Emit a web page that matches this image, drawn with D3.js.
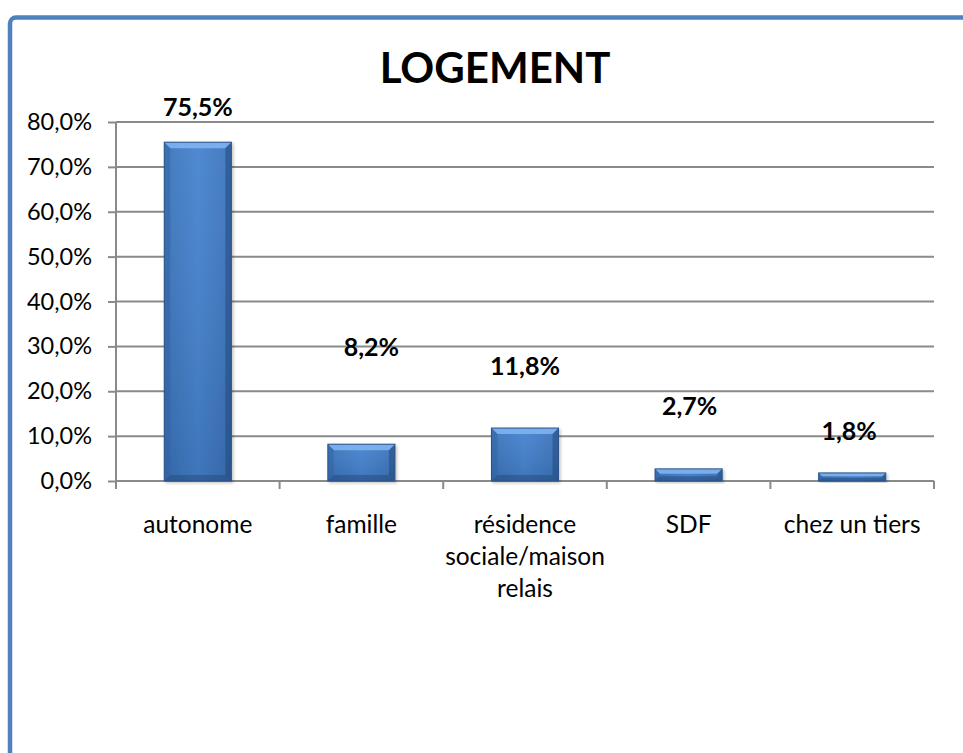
<!DOCTYPE html>
<html><head><meta charset="utf-8">
<script src="https://cdn.jsdelivr.net/npm/d3@7"></script>
<style>
html,body{margin:0;padding:0;background:#fff;}
svg{display:block;font-family:Lato,"Open Sans",sans-serif;}
</style></head>
<body>
<svg id="chart" width="963" height="753"></svg>
<script>
const title = "LOGEMENT";
const categories = ["autonome", "famille", "résidence sociale/maison relais", "SDF", "chez un tiers"];
const values = [75.5, 8.2, 11.8, 2.7, 1.8];
const valueLabels = ["75,5%", "8,2%", "11,8%", "2,7%", "1,8%"];
const yTicks = [0, 10, 20, 30, 40, 50, 60, 70, 80];
const yTickLabels = ["0,0%", "10,0%", "20,0%", "30,0%", "40,0%", "50,0%", "60,0%", "70,0%", "80,0%"];

// label placement (manually positioned labels in the original), in px
const labelDy = [26, 88, 53, 54, 33];
const labelDx = [0, 10, 0, 1, -3];

const svg = d3.select("#chart");
const W = 963, H = 753;
const m = {left: 116, right: 29, top: 122, bottom: 272};
const pw = W - m.left - m.right, ph = H - m.top - m.bottom;

// frame
svg.append("rect").attr("x", 10).attr("y", 17.5).attr("width", 1000).attr("height", 800)
  .attr("rx", 6).attr("fill", "#fff").attr("stroke", "#4f81bd").attr("stroke-width", 4.5);

const defs = svg.append("defs");
const gH = defs.append("linearGradient").attr("id", "gh").attr("x1", 0).attr("x2", 1).attr("y1", 0).attr("y2", 0);
gH.append("stop").attr("offset", "0").attr("stop-color", "#3a72ba");
gH.append("stop").attr("offset", "0.5").attr("stop-color", "#4582cf");
gH.append("stop").attr("offset", "1").attr("stop-color", "#3a72ba");
const gV = defs.append("linearGradient").attr("id", "gv").attr("x1", 0).attr("x2", 0).attr("y1", 0).attr("y2", 1);
gV.append("stop").attr("offset", "0").attr("stop-color", "#ffffff").attr("stop-opacity", 0.06);
gV.append("stop").attr("offset", "1").attr("stop-color", "#000000").attr("stop-opacity", 0.1);
const f = defs.append("filter").attr("id", "sh").attr("x", "-20%").attr("y", "-20%").attr("width", "140%").attr("height", "140%");
f.append("feDropShadow").attr("dx", 1.5).attr("dy", 1.5).attr("stdDeviation", 1.5).attr("flood-color", "#000").attr("flood-opacity", 0.25);

const g = svg.append("g").attr("transform", `translate(${m.left},${m.top})`);

const x = d3.scaleBand().domain(categories).range([0, pw]).paddingInner(0.59).paddingOuter(0.295);
const y = d3.scaleLinear().domain([0, 80]).range([ph, 0]);

// gridlines
g.append("g").selectAll("line").data(yTicks.filter(d => d > 0)).join("line")
  .attr("x1", 0).attr("x2", pw).attr("y1", d => y(d)).attr("y2", d => y(d))
  .attr("stroke", "#8a8a8a").attr("stroke-width", 2);

// y axis
const yAxis = d3.axisLeft(y).tickValues(yTicks).tickFormat((d, i) => yTickLabels[i]).tickSize(8).tickPadding(16);
const ya = g.append("g").call(yAxis);
ya.select(".domain").attr("stroke", "#8a8a8a").attr("stroke-width", 2).attr("d", `M0,${ph}V0`);
ya.selectAll(".tick line").attr("stroke", "#8a8a8a").attr("stroke-width", 2);
ya.selectAll("text").attr("font-size", 23.5).attr("fill", "#000").attr("font-family", "Lato");

// x axis
const stepX = x.step();
const boundaries = d3.range(categories.length + 1).map(i => i * stepX);
g.append("line").attr("x1", 0).attr("x2", pw).attr("y1", ph).attr("y2", ph)
  .attr("stroke", "#8a8a8a").attr("stroke-width", 2);
g.append("g").selectAll("line").data(boundaries).join("line")
  .attr("x1", d => d).attr("x2", d => d).attr("y1", ph).attr("y2", ph + 8)
  .attr("stroke", "#8a8a8a").attr("stroke-width", 2);

// bars
const bw = x.bandwidth();
const bars = g.append("g").selectAll("g").data(categories).join("g")
  .attr("filter", "url(#sh)");
bars.each(function(c, i) {
  const gg = d3.select(this);
  const x0 = x(c), y0 = y(values[i]), h = ph - y0, w = bw;
  const b = Math.min(6, h / 2.5);
  gg.append("rect").attr("x", x0).attr("y", y0).attr("width", w).attr("height", h).attr("fill", "url(#gh)");
  gg.append("rect").attr("x", x0).attr("y", y0).attr("width", w).attr("height", h).attr("fill", "url(#gv)");
  // top bevel (light)
  gg.append("path").attr("d", `M${x0},${y0}H${x0 + w}L${x0 + w - b},${y0 + b}H${x0 + b}Z`).attr("fill", "#80b2f0").attr("opacity", 0.9);
  // left bevel
  gg.append("path").attr("d", `M${x0},${y0}L${x0 + b},${y0 + b}V${y0 + h - b}L${x0},${y0 + h}Z`).attr("fill", "#2f619f").attr("opacity", 0.45);
  // right bevel
  gg.append("path").attr("d", `M${x0 + w},${y0}L${x0 + w - b},${y0 + b}V${y0 + h - b}L${x0 + w},${y0 + h}Z`).attr("fill", "#23497a").attr("opacity", 0.55);
  // bottom bevel
  gg.append("path").attr("d", `M${x0},${y0 + h}L${x0 + b},${y0 + h - b}H${x0 + w - b}L${x0 + w},${y0 + h}Z`).attr("fill", "#24497a").attr("opacity", 0.5);
  gg.append("rect").attr("x", x0).attr("y", y0).attr("width", w).attr("height", h)
    .attr("fill", "none").attr("stroke", "#2a5288").attr("stroke-width", 1);
});

// value labels
g.append("g").selectAll("text").data(categories).join("text")
  .attr("x", (c, i) => x(c) + bw / 2 + labelDx[i])
  .attr("y", (c, i) => y(values[i]) - labelDy[i])
  .attr("text-anchor", "middle").attr("font-size", 25).attr("font-weight", "bold")
  .attr("font-family", "Lato").attr("fill", "#000")
  .text((c, i) => valueLabels[i]);

// category labels with wrapping
const catG = g.append("g");
categories.forEach(c => {
  const t = catG.append("text").attr("x", x(c) + bw / 2).attr("y", ph + 52)
    .attr("text-anchor", "middle").attr("font-size", 24.5).attr("font-family", "Lato").attr("fill", "#000");
  const words = c.split(" ");
  let line = [];
  let ts = t.append("tspan").attr("x", x(c) + bw / 2).attr("dy", 0);
  words.forEach(wd => {
    line.push(wd);
    ts.text(line.join(" "));
    if (ts.node().getComputedTextLength() > 185 && line.length > 1) {
      line.pop();
      ts.text(line.join(" "));
      line = [wd];
      ts = t.append("tspan").attr("x", x(c) + bw / 2).attr("dy", 32).text(wd);
    }
  });
});

// title
svg.append("text").attr("x", 495).attr("y", 83).attr("text-anchor", "middle")
  .attr("font-size", 42).attr("font-weight", "bold").attr("font-family", "Lato").attr("fill", "#000")
  .text(title);
</script>
</body></html>
